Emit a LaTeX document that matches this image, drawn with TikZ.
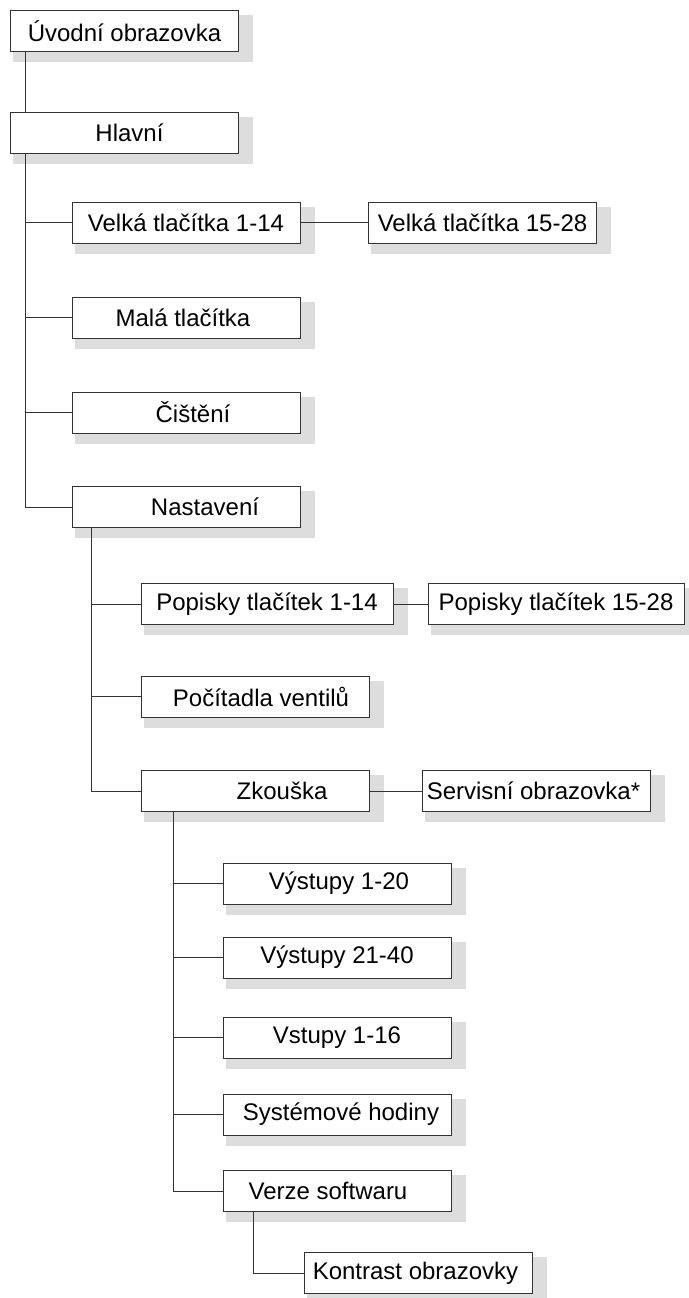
\documentclass[tikz,border=0pt]{standalone}
\usepackage{fontspec}
\setmainfont{Liberation Sans}
\usetikzlibrary{backgrounds}

\definecolor{shadowgray}{HTML}{DDDDDD}
\definecolor{linegray}{HTML}{333333}
\newcommand{\menufont}{\fontsize{12}{14}\selectfont}
% posun textu v okne (o #1 px doprava)
\newcommand{\nudge}[2]{\kern#1pt#2}

\begin{document}
\begin{tikzpicture}[
    x=0.5pt, y=-0.5pt,
    menubox/.style={rectangle, draw=linegray, fill=white, line width=0.5pt, minimum width=114pt, minimum height=20.5pt, inner sep=0pt, font=\menufont},
    menushadow/.style={fill=shadowgray},
    menuline/.style={draw=linegray, line width=0.5pt}
]
\useasboundingbox (0,0) rectangle (689,1298);

% Level 0
\node[menubox] (uvod)   at (124.5, 31) {Úvodní obrazovka};
\node[menubox] (hlavni) at (124.5, 133) {\nudge{5}{Hlavní}};

% Level 1
\node[menubox] (velka1)  at (186, 222.5) {Velká tlačítka 1-14};
\node[menubox] (velka2)  at (482.5, 222.5) {Velká tlačítka 15-28};
\node[menubox] (mala)    at (186, 317.5) {\nudge{-3}{Malá tlačítka}};
\node[menubox] (cisteni) at (186, 412.5) {\nudge{7}{Čištění}};
\node[menubox] (nastav)  at (186, 507) {\nudge{19}{Nastavení}};

% Level 2 (Nastavení)
\node[menubox, minimum width=126pt] (popis1) at (267, 604) {Popisky tlačítek 1-14};
\node[menubox, minimum width=128pt] (popis2) at (556, 604) {Popisky tlačítek 15-28};
\node[menubox] (pocit)   at (255, 696.5) {\nudge{6}{Počítadla ventilů}};
\node[menubox] (zkouska) at (255, 791) {\nudge{27}{Zkouška}};
\node[menubox] (servis)  at (536.5, 791) {\nudge{-3}{Servisní obrazovka*}};

% Level 3 (Zkouška)
\node[menubox] (vyst1)  at (337, 883.5) {\nudge{2}{Výstupy 1-20}};
\node[menubox] (vyst2)  at (337, 957.5) {Výstupy 21-40};
\node[menubox] (vstup)  at (337, 1037.5) {Vstupy 1-16};
\node[menubox] (hodiny) at (337, 1114.5) {\nudge{4}{Systémové hodiny}};
\node[menubox] (verze)  at (337, 1191) {\nudge{-9}{Verze softwaru}};

% Level 4 (Verze softwaru)
\node[menubox] (kontrast) at (418.5, 1273) {\nudge{-3}{Kontrast obrazovky}};

% Shadows
\begin{scope}[on background layer]
\foreach \n in {uvod,hlavni,velka1,velka2,mala,cisteni,nastav,popis1,popis2,pocit,zkouska,servis,vyst1,vyst2,vstup,hodiny,verze,kontrast}
    \fill[menushadow] ([shift={(1.5pt,-2.5pt)}]\n.north west) rectangle ([shift={(7pt,-5pt)}]\n.south east);
\end{scope}

% Connectors
\draw[menuline] ([xshift=7.5pt]uvod.south west) -- ([xshift=7.5pt]hlavni.north west);
\foreach \n in {velka1,mala,cisteni,nastav}
    \draw[menuline] ([xshift=7.5pt]hlavni.south west) |- (\n.west);
\foreach \n in {popis1,pocit,zkouska}
    \draw[menuline] ([xshift=10pt]nastav.south west) |- (\n.west);
\foreach \n in {vyst1,vyst2,vstup,hodiny,verze}
    \draw[menuline] ([xshift=16.5pt]zkouska.south west) |- (\n.west);
\draw[menuline] ([xshift=15.5pt]verze.south west) |- (kontrast.west);

\draw[menuline] (velka1) -- (velka2);
\draw[menuline] (popis1) -- (popis2);
\draw[menuline] (zkouska) -- (servis);

\end{tikzpicture}
\end{document}
